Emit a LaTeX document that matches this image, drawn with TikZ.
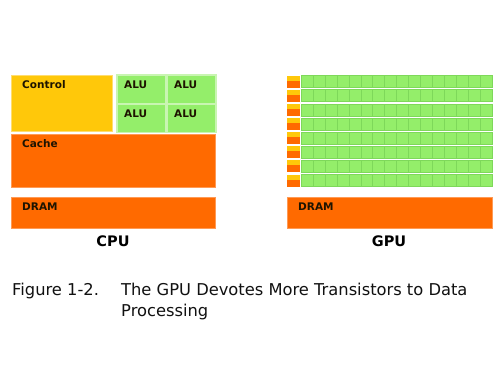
\documentclass[tikz,border=0pt]{standalone}
\usepackage{fontspec}
\setmainfont{DejaVu Sans}
\usepackage{tikz}
\usetikzlibrary{calc, positioning}
\usepackage{xcolor}
\definecolor{CtrlYellow}{HTML}{FFC80A}
\definecolor{CtrlEdge}{HTML}{FFDD70}
\definecolor{AluGreen}{HTML}{94EE6A}
\definecolor{AluEdge}{HTML}{C9F5B2}
\definecolor{AluGrid}{HTML}{7ED85A}
\definecolor{CacheOrange}{HTML}{FF6A00}
\definecolor{CacheEdge}{HTML}{FF9A55}
\definecolor{LabelInk}{HTML}{1E1400}
\definecolor{CaptionInk}{HTML}{111111}
\tikzset{%
  unit/.style={%
    rectangle,%
    anchor=north west,%
    inner sep=0pt,%
    outer sep=0pt,%
  },
  control_block/.style={%
    unit,%
    fill=CtrlYellow,%
    draw=CtrlEdge,%
    line width=0.6pt,%
  },
  alu_block/.style={%
    unit,%
    fill=AluGreen,%
    draw=AluEdge,%
    line width=1.2pt,%
  },
  cache_block/.style={%
    unit,%
    fill=CacheOrange,%
    draw=CacheEdge,%
    line width=0.6pt,%
  },
  gpu_alu/.style={%
    unit,%
    fill=AluGreen,%
    draw=AluGrid,%
    line width=0.4pt,%
    minimum width=11.94pt,%
    minimum height=12pt,%
  },
  gpu_ctrl/.style={%
    unit,%
    fill=CtrlYellow,%
    minimum width=13pt,%
    minimum height=5pt,%
  },
  gpu_cache/.style={%
    unit,%
    fill=CacheOrange,%
    minimum width=13pt,%
    minimum height=7pt,%
  },
  block_label/.style={%
    anchor=west,%
    inner sep=0pt,%
    text=LabelInk,%
    font={\fontsize{10.5}{13}\selectfont\bfseries},%
  },
  chip_label/.style={%
    inner sep=0pt,%
    text=black,%
    font={\fontsize{14.5}{18}\selectfont\bfseries},%
  },
  caption/.style={%
    anchor=base west,%
    inner sep=0pt,%
    text=CaptionInk,%
    font={\fontsize{16.3}{21}\selectfont},%
  },
}
\begin{document}
\begin{tikzpicture}[x=1pt, y=-1pt]
  \fill [white] (0,0) rectangle (500,375);
  \useasboundingbox (0,0) rectangle (500,375);

  % CPU
  \node [control_block, minimum width=101pt, minimum height=56pt] (Control) at (11,75) {};
  \foreach \row in {0,1} {
    \foreach \col in {0,1} {
      \node [alu_block, minimum width=49pt, minimum height=28.5pt]
        (ALU\row\col) at ({117+50*\col}, {75+29*\row}) {};
      \node [block_label] at ($(ALU\row\col.north west)+(7,10)$) {ALU};
    }
  }
  \node [cache_block, minimum width=204pt, minimum height=53pt] (Cache) at (11,134) {};
  \node [cache_block, minimum width=204pt, minimum height=31pt] (DRAM1) at (11,197) {};

  \node [block_label] (ControlText) at ($(Control.north west)+(11,10)$) {Control};
  \node [block_label] (CacheText) at ($(Cache.north west)+(11,10)$) {Cache};
  \node [block_label] (DRAM1Text) at ($(DRAM1.north west)+(11,10)$) {DRAM};
  \node [chip_label] (CPU) at (113,241) {CPU};

  % GPU
  \foreach \r in {0,...,7} {
    \node [gpu_ctrl] (GCtrl\r) at (287, {75.5+14.15*\r}) {};
    \node [gpu_cache] (GCache\r) at (287, {80.5+14.15*\r}) {};
    \foreach \c in {0,...,15} {
      \node [gpu_alu] (GALU\r-\c) at ({301+11.94*\c}, {75.5+14.15*\r}) {};
    }
  }
  \node [cache_block, minimum width=205pt, minimum height=31pt] (DRAM2) at (287,197) {};
  \node [block_label] (DRAM2Text) at ($(DRAM2.north west)+(11,10)$) {DRAM};
  \node [chip_label] (GPU) at (389,241) {GPU};

  % caption
  \node [caption] (FigNum) at (12,295) {Figure 1-2.};
  \node [caption] (FigLine1) at (121,295) {The GPU Devotes More Transistors to Data};
  \node [caption] (FigLine2) at (121,316) {Processing};
\end{tikzpicture}
\end{document}
